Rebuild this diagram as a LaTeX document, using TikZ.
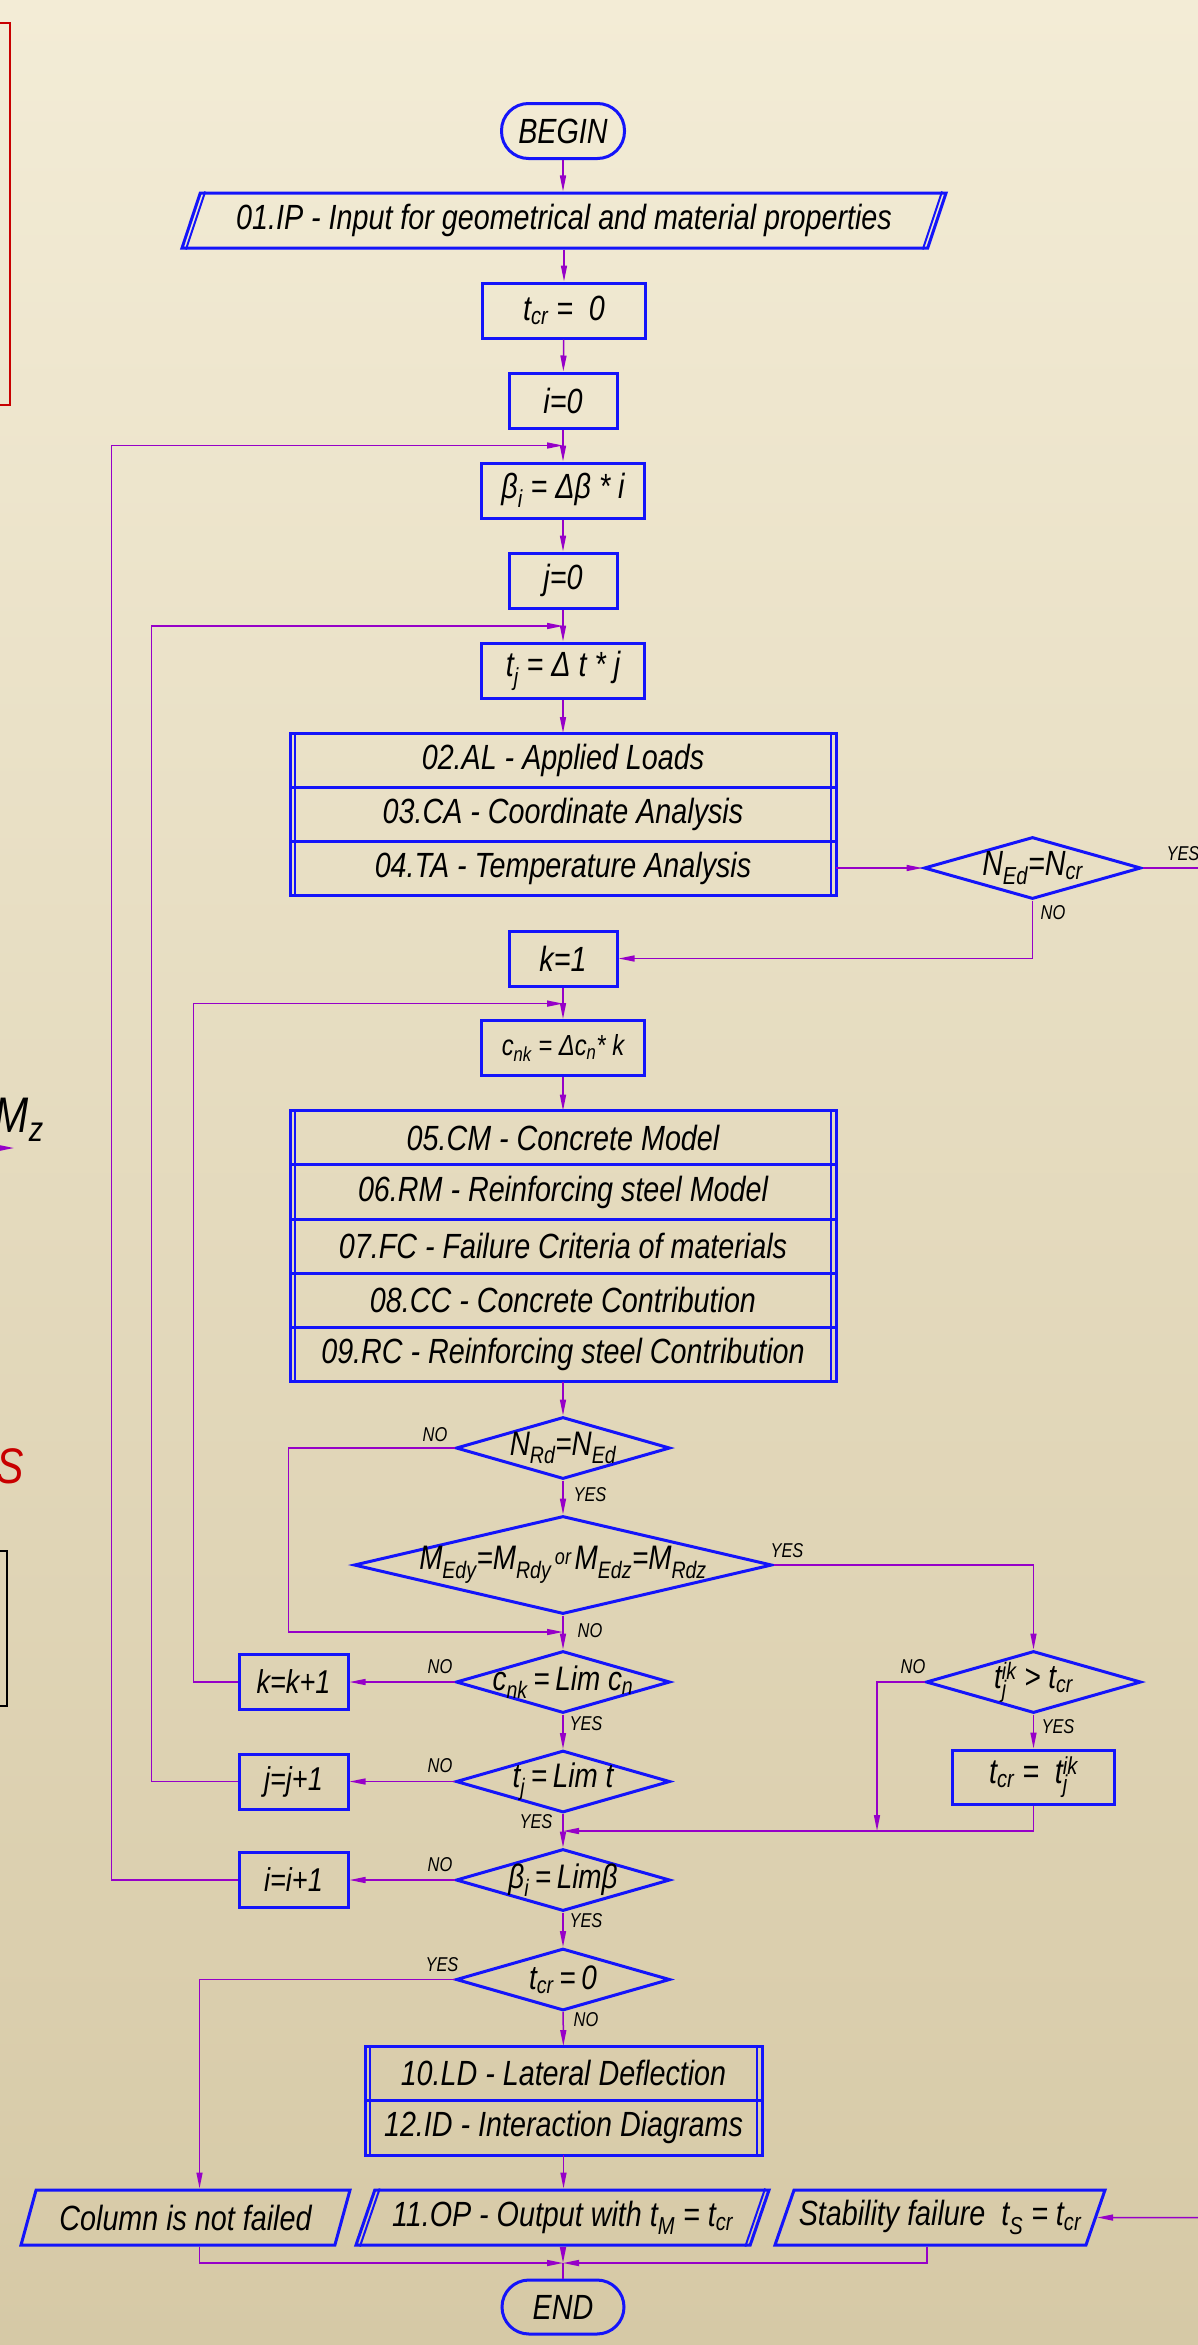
\documentclass[tikz,border=0pt]{standalone}
\usepackage{fontspec}
\setmainfont{Liberation Sans}[FakeStretch=0.82]
\usepackage{tikz}
\usetikzlibrary{arrows,arrows.meta,shapes.geometric,positioning}
\definecolor{boxblue}{RGB}{20,20,250}
\definecolor{flowline}{RGB}{150,0,200}
\definecolor{sidered}{RGB}{200,0,0}
\definecolor{bgtop}{RGB}{243,236,214}
\definecolor{bgbot}{RGB}{214,201,166}
\newcommand{\fcfont}{\itshape\fontsize{35}{40}\selectfont}
\newcommand{\nfont}{\itshape\fontsize{34}{38}\selectfont}
\newcommand{\mfont}{\itshape\fontsize{34}{38}\selectfont}
\newcommand{\dfont}{\itshape\fontsize{34}{38}\selectfont}
\newcommand{\cfont}{\itshape\fontsize{29}{34}\selectfont}
\newcommand{\kfont}{\itshape\fontsize{33}{38}\selectfont}
\newcommand{\orfont}{\fontsize{22}{24}\selectfont}
\newcommand{\lblfont}{\itshape\fontsize{20}{22}\selectfont}
\newcommand{\sidefont}{\itshape\fontsize{50}{56}\selectfont}
\tikzstyle{flow} = [line width=1.5pt, draw=flowline]
\tikzstyle{arrow} = [flow, ->, >={Stealth[length=16pt,width=6pt,inset=0pt]}]
\tikzstyle{proc} = [rectangle, draw=boxblue, line width=3pt, minimum height=55pt, font=\fcfont]
\tikzstyle{row} = [proc, minimum height=54pt, outer sep=0pt]
\tikzstyle{dec} = [diamond, aspect=3.45, draw=boxblue, line width=3pt, inner sep=-8pt, minimum width=214pt, minimum height=62pt, font=\dfont]
\tikzstyle{io} = [trapezium, trapezium left angle=65, trapezium right angle=115, trapezium stretches body, draw=boxblue, line width=3pt, minimum height=55pt, font=\fcfont]
\tikzstyle{term} = [rectangle, rounded corners=27pt, draw=boxblue, line width=3pt, minimum width=123pt, minimum height=55pt, font=\fcfont]
\tikzstyle{dbl} = [draw=boxblue, line width=2pt]
\tikzstyle{lbl} = [font=\lblfont, inner sep=0pt]

\begin{document}
\begin{tikzpicture}[x=1pt, y=-1pt]
\useasboundingbox (0,0) rectangle (1198,2345);
\clip (0,0) rectangle (1198,2345);
\shade [top color=bgtop, bottom color=bgbot] (0,0) rectangle (1198,2345);

\draw [draw=sidered, line width=2pt] (-60,23) rectangle (10,405);
\node [font=\sidefont, anchor=base east, inner sep=0pt] (mz) at (44,1132) {M\textsubscript{z}};
\coordinate (mzfrom) at (-40,1148);
\coordinate (mzto) at (14,1148);
\draw [arrow] (mzfrom) -- (mzto);
\node [font=\sidefont, text=sidered, anchor=base east, inner sep=0pt] (sred) at (24,1483) {S};
\draw [line width=1.5pt] (-60,1551) rectangle (7,1706);

\node [term] (begin) at (563,131) {BEGIN};
\node [io, minimum width=764pt] (ip) at (564,220.5) {01.IP - Input for geometrical and material properties};
\node [proc, minimum width=163pt] (tcr0) at (564,310.5) {t\textsubscript{cr} = \ 0};
\node [proc, minimum width=108pt] (i0) at (563,400.5) {i=0};
\node [proc, minimum width=163pt] (beta) at (563,490.5) {β\textsubscript{i} = Δβ * i};
\node [proc, minimum width=108pt] (j0) at (563,580.5) {j=0};
\node [proc, minimum width=163pt] (tj) at (563,670.5) {t\textsubscript{j} = Δ t * j};

\node [row, minimum width=546pt] (al) at (563,760) {02.AL - Applied Loads};
\node [row, minimum width=546pt] (ca) [below=0pt of al] {03.CA - Coordinate Analysis};
\node [row, minimum width=546pt] (ta) [below=0pt of ca] {04.TA - Temperature Analysis};

\node [dec, minimum width=217pt, font=\fcfont] (ned) at (1032.5,868) {N\textsubscript{Ed}=N\textsubscript{cr}};
\node [proc, minimum width=108pt] (k1) at (563,958.5) {k=1};
\node [proc, minimum width=163pt, font=\cfont] (cnk) at (563,1048) {c\textsubscript{nk} = Δc\textsubscript{n}* k};

\node [row, minimum width=546pt, minimum height=54.2pt] (cm) at (563,1137.8) {05.CM - Concrete Model};
\node [row, minimum width=546pt, minimum height=54.2pt] (rm) [below=0pt of cm] {06.RM - Reinforcing steel Model};
\node [row, minimum width=546pt, minimum height=54.2pt] (fc) [below=0pt of rm] {07.FC - Failure Criteria of materials};
\node [row, minimum width=546pt, minimum height=54.2pt] (cc) [below=0pt of fc] {08.CC - Concrete Contribution};
\node [row, minimum width=546pt, minimum height=54.2pt] (rc) [below=0pt of cc] {09.RC - Reinforcing steel Contribution};

\node [dec, font=\nfont] (nrd) at (563,1448) {N\textsubscript{Rd}=N\textsubscript{Ed}};
\node [dec, aspect=4.27, minimum width=418pt, minimum height=98pt, font=\mfont] (medy) at (563,1565) {M\textsubscript{Edy}=M\textsubscript{Rdy}\raisebox{5pt}{\orfont\,or\,}M\textsubscript{Edz}=M\textsubscript{Rdz}};
\node [dec] (cnklim) at (563,1682) {c\textsubscript{nk}\,=\,Lim c\textsubscript{n}};
\node [proc, minimum width=109pt, font=\kfont] (kinc) [left=105pt of cnklim] {k=k+1};
\node [dec] (tjlim) at (563,1781.5) {t\textsubscript{j}\,=\,Lim t};
\node [proc, minimum width=109pt, font=\kfont] (jinc) [left=105pt of tjlim] {j=j+1};
\node [dec, minimum width=215pt] (tik) [right=253pt of cnklim] {t\rlap{\textsubscript{j}}\textsuperscript{ik} > t\textsubscript{cr}};
\node [proc, minimum width=162pt, minimum height=54pt] (tcrtik) [below=34pt of tik] {t\textsubscript{cr} = \ t\rlap{\textsubscript{j}}\textsuperscript{ik}};
\node [dec] (betalim) at (563,1880) {β\textsubscript{i}\,=\,Limβ};
\node [proc, minimum width=109pt, font=\kfont] (iinc) [left=105pt of betalim] {i=i+1};
\node [dec] (tcrzero) at (563,1979.5) {t\textsubscript{cr}\,=\,0};

\node [row, minimum width=397pt, minimum height=54.5pt] (ld) at (563.5,2073.25) {10.LD - Lateral Deflection};
\node [row, minimum width=397pt, minimum height=54.5pt] (id) [below=0pt of ld] {12.ID - Interaction Diagrams};

\node [io, minimum width=329pt] (notfailed) at (185.5,2217.5) {Column is not failed};
\node [io, minimum width=413pt] (op) at (562.5,2217.5) {11.OP - Output with t\textsubscript{M} = t\textsubscript{cr}};
\node [io, minimum width=330pt] (stab) at (940,2217.5) {Stability failure \ t\textsubscript{S} = t\textsubscript{cr}};
\node [term, minimum width=122pt, minimum height=54pt] (end) at (563,2307) {END};

\draw [dbl] ([xshift=6pt]ip.bottom left corner) -- ([xshift=6pt]ip.top left corner);
\draw [dbl] ([xshift=-6pt]ip.bottom right corner) -- ([xshift=-6pt]ip.top right corner);
\draw [dbl] ([xshift=6pt]op.bottom left corner) -- ([xshift=6pt]op.top left corner);
\draw [dbl] ([xshift=-6pt]op.bottom right corner) -- ([xshift=-6pt]op.top right corner);
\draw [dbl] ([xshift=5pt]al.north west) -- ([xshift=5pt]ta.south west);
\draw [dbl] ([xshift=-5pt]al.north east) -- ([xshift=-5pt]ta.south east);
\draw [dbl] ([xshift=5pt]cm.north west) -- ([xshift=5pt]rc.south west);
\draw [dbl] ([xshift=-5pt]cm.north east) -- ([xshift=-5pt]rc.south east);
\draw [dbl] ([xshift=5pt]ld.north west) -- ([xshift=5pt]id.south west);
\draw [dbl] ([xshift=-5pt]ld.north east) -- ([xshift=-5pt]id.south east);

\coordinate (ijoin) at (563,445.5);
\coordinate (jjoin) at (563,626);
\coordinate (kjoin) at (563,1003.6);
\coordinate (nojoin) at (563,1632);
\coordinate (merge) at (563,1831);
\coordinate (tikdown) at (877,1831);
\coordinate (endjoin) at (563,2263);
\coordinate (nedout) at (1210,868);
\coordinate (stabin) at (1210,2217.7);

\draw [arrow] (begin) -- (begin |- ip.north);
\draw [arrow] (ip.south -| tcr0) -- (tcr0);
\draw [arrow] (tcr0) -- (i0);
\draw [arrow] (i0) -- (beta);
\draw [arrow] (beta) -- (j0);
\draw [arrow] (j0) -- (tj);
\draw [arrow] (tj) -- (al);
\draw [arrow] (ta) -- (ned);
\draw [flow] (ned.east) -- (nedout);
\draw [arrow] (ned.south) |- (k1.east);
\draw [arrow] (k1) -- (cnk);
\draw [arrow] (cnk) -- (cm);
\draw [arrow] (rc) -- (nrd);
\draw [arrow] (nrd) -- (medy);
\draw [arrow] (nrd.west) -- ++(-166,0) |- (nojoin);
\draw [arrow] (medy) -- (cnklim);
\draw [arrow] (medy.east) -| (tik.north);
\draw [arrow] (cnklim.west) -- (kinc.east);
\draw [arrow] (kinc.west) -- ++(-44,0) |- (kjoin);
\draw [arrow] (cnklim) -- (tjlim);
\draw [arrow] (tjlim.west) -- (jinc.east);
\draw [arrow] (jinc.west) -- ++(-86,0) |- (jjoin);
\draw [arrow] (tjlim) -- (betalim);
\draw [arrow] (tik) -- (tcrtik);
\draw [arrow] (tik.west) -| (tikdown);
\draw [arrow] (tcrtik.south) |- (merge);
\draw [arrow] (betalim.west) -- (iinc.east);
\draw [arrow] (iinc.west) -- ++(-126,0) |- (ijoin);
\draw [arrow] (betalim) -- (tcrzero);
\draw [arrow] (tcrzero.west) -| ([xshift=14pt]notfailed.north);
\draw [arrow] (tcrzero) -- (ld);
\draw [arrow] (id) -- (id |- op.north);
\draw [arrow] (op.south -| end) -- (endjoin);
\draw [flow] (endjoin) -- (end);
\draw [arrow] ([xshift=14pt]notfailed.south) |- (endjoin);
\draw [arrow] ([xshift=-13pt]stab.south) |- (endjoin);
\draw [arrow] (stabin) -- (stab.east);

\node [lbl] (nedyes) at (1183,854) {YES};
\node [lbl] (nedno) at (1053,913) {NO};
\node [lbl] (nrdno) at (435,1435) {NO};
\node [lbl] (nrdyes) at (590,1495) {YES};
\node [lbl] (medyyes) at (787,1551) {YES};
\node [lbl] (medyno) at (590,1631) {NO};
\node [lbl] (cnkno) at (440,1667) {NO};
\node [lbl] (cnkyes) at (586,1724) {YES};
\node [lbl] (tjno) at (440,1766) {NO};
\node [lbl] (tjyes) at (536,1822) {YES};
\node [lbl] (tikno) at (913,1667) {NO};
\node [lbl] (tikyes) at (1058,1727) {YES};
\node [lbl] (betano) at (440,1865) {NO};
\node [lbl] (betayes) at (586,1921) {YES};
\node [lbl] (tcryes) at (442,1965) {YES};
\node [lbl] (tcrno) at (586,2020) {NO};

\end{tikzpicture}
\end{document}
